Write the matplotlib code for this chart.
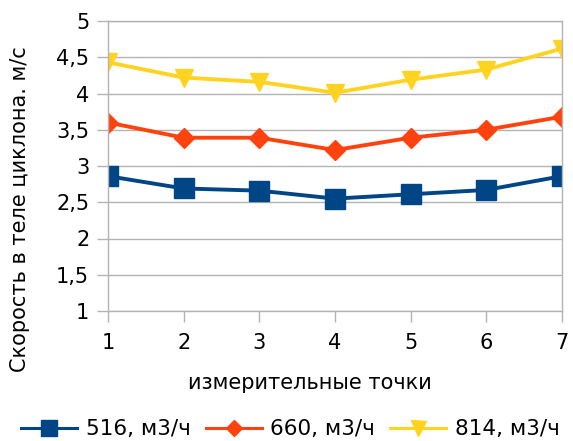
import matplotlib
matplotlib.use("Agg")
import matplotlib.pyplot as plt

points = [1, 2, 3, 4, 5, 6, 7]
s516 = [2.86, 2.69, 2.66, 2.55, 2.61, 2.67, 2.86]
s660 = [3.60, 3.39, 3.39, 3.22, 3.39, 3.50, 3.68]
s814 = [4.43, 4.22, 4.16, 4.01, 4.19, 4.33, 4.62]
labels = ["516, м3/ч", "660, м3/ч", "814, м3/ч"]
yticks = [1, 1.5, 2, 2.5, 3, 3.5, 4, 4.5, 5]
ytick_labels = ["1", "1,5", "2", "2,5", "3", "3,5", "4", "4,5", "5"]

plt.rcParams['font.family'] = ['DejaVu Sans']

fig = plt.figure(figsize=(5.73, 4.41), dpi=100)
ax = fig.add_axes([108/573, 1-311/441, (562-108)/573, (311-21)/441])

ax.plot(points, s516, color='#004586', lw=2.8, marker='s', ms=14, label=labels[0])
ax.plot(points, s660, color='#ff420e', lw=2.8, marker='D', ms=10, label=labels[1])
ax.plot(points, s814, color='#ffd320', lw=2.8, marker='v', ms=13.5, label=labels[2])

ax.set_xlim(1, 7)
ax.set_ylim(1, 5)
ax.set_xticks(points)
ax.set_yticks(yticks)
ax.set_yticklabels(ytick_labels)
ax.yaxis.grid(True, color='#b3b3b3', lw=1)
ax.set_axisbelow(True)
for sp in ax.spines.values():
    sp.set_color('#b3b3b3')
    sp.set_linewidth(1)
ax.tick_params(axis='both', colors='#b3b3b3', labelcolor='black', labelsize=15,
               length=8, width=1, direction='out')
ax.tick_params(axis='x', pad=8)
ax.tick_params(axis='y', pad=5.5)

ax.set_xlabel("измерительные точки", fontsize=15)
ax.set_ylabel("Скорость в теле циклона. м/с", fontsize=15)
ax.xaxis.set_label_coords(0.445, -0.214)
ax.yaxis.set_label_coords(-0.172, 0.352)

leg = fig.legend(loc='lower center', ncol=3, bbox_to_anchor=(0.507, -0.04), frameon=False,
                 fontsize=15.5, handlelength=2.6, columnspacing=0.7, handletextpad=0.4,
                 markerscale=0.8)
for ln in leg.get_lines():
    ln.set_linewidth(2.2)

fig.savefig("out.png", dpi=100)
